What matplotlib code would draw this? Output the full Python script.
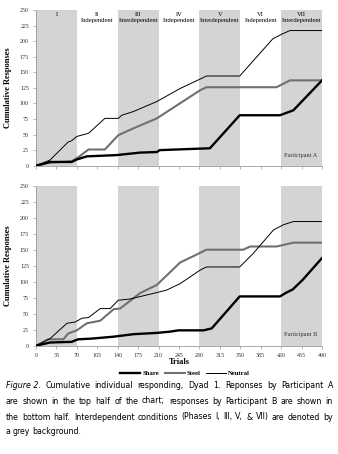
import numpy as np
import matplotlib
matplotlib.use("Agg")
import matplotlib.pyplot as plt
from matplotlib import font_manager
from matplotlib.font_manager import FontProperties

# Data: trial -> cumulative responses (breakpoints)
trials_share_a = [0, 24, 61, 70, 87, 138, 178, 207, 212, 298, 349, 418, 441, 490]
share_a = [0, 6, 6, 10, 15, 17, 21, 22, 25, 28, 81, 81, 89, 137]
trials_steel_a = [0, 24, 61, 73, 90, 118, 141, 167, 207, 281, 292, 412, 435, 490]
steel_a = [0, 5, 7, 14, 26, 26, 49, 60, 76, 121, 126, 126, 137, 137]
trials_neutral_a = [0, 24, 55, 61, 70, 90, 118, 141, 147, 167, 207, 247, 281, 292, 349, 406, 423, 435, 490]
neutral_a = [0, 9, 38, 40, 47, 52, 76, 76, 81, 87, 103, 124, 139, 144, 144, 204, 212, 217, 217]

trials_share_b = [0, 24, 61, 72, 94, 132, 167, 207, 230, 244, 287, 301, 349, 418, 429, 440, 457, 490]
share_b = [0, 5, 6, 10, 11, 14, 18, 20, 22, 24, 24, 27, 77, 77, 83, 88, 103, 137]
trials_steel_b = [0, 21, 47, 55, 70, 87, 110, 133, 144, 178, 207, 247, 281, 292, 355, 367, 412, 441, 490]
steel_b = [0, 10, 10, 19, 24, 35, 39, 57, 58, 82, 95, 130, 145, 150, 150, 155, 155, 161, 161]
trials_neutral_b = [0, 24, 53, 67, 79, 90, 110, 127, 141, 161, 207, 224, 247, 281, 292, 349, 372, 407, 424, 441, 490]
neutral_b = [0, 11, 35, 37, 43, 44, 58, 58, 71, 73, 83, 87, 97, 118, 123, 123, 144, 181, 189, 194, 194]

phase_edges = [0, 70, 140, 210, 280, 350, 420, 490]
phase_names = ["I", "II", "III", "IV", "V", "VI", "VII"]
phase_kinds = ["", "Independent", "Interdependent", "Independent",
               "Interdependent", "Independent", "Interdependent"]
shaded = [0, 2, 4, 6]

xticks = np.arange(0, 491, 35)
yticks = np.arange(0, 251, 25)

caption = ["Cumulative individual responding, Dyad 1. Reponses by Participant A",
           "are shown in the top half of the chart; responses by Participant B are shown in",
           "the bottom half. Interdependent conditions (Phases I, III, V, & VII) are denoted by",
           "a grey background."]

serif = "Liberation Serif"

# pick a narrow sans for the caption if one is around
capfont, capstretch = "Liberation Sans", "normal"
for fam, st in [("Liberation Sans Narrow", "normal"), ("DejaVu Sans", "condensed"),
                ("Roboto", "condensed"), ("Open Sans", "condensed"),
                ("Noto Sans", "condensed")]:
    try:
        p = font_manager.findfont(FontProperties(family=fam, stretch=st),
                                  fallback_to_default=False)
    except Exception:
        continue
    if "Narrow" in p or "Condensed" in p:
        capfont, capstretch = fam, st
        break

W, H = 338, 454
fig = plt.figure(figsize=(W/100, H/100), dpi=100)

def px_axes(x0, y0, x1, y1):
    return fig.add_axes([x0/W, 1 - y1/H, (x1-x0)/W, (y1-y0)/H])

ax_a = px_axes(36, 10, 322, 165.7)
ax_b = px_axes(36, 185.7, 322, 345.7)

def style(ax, label, show_x):
    for i in shaded:
        ax.axvspan(phase_edges[i], phase_edges[i+1], color="#d4d4d4", lw=0, zorder=0)
    ax.set_xlim(0, 490)
    ax.set_ylim(0, 250)
    ax.set_xticks(xticks)
    ax.set_yticks(yticks)
    ax.spines["top"].set_visible(False)
    ax.spines["right"].set_visible(False)
    for s in ("left", "bottom"):
        ax.spines[s].set_color("#9a9a9a")
        ax.spines[s].set_linewidth(0.6)
    ax.tick_params(length=2, width=0.5, color="#9a9a9a", pad=3, labelsize=4.3,
                   labelcolor="#333333")
    for t in ax.get_yticklabels() + ax.get_xticklabels():
        t.set_family(serif)
    if not show_x:
        ax.set_xticklabels([])
    ax.set_ylabel("Cumulative Responses", family=serif, fontsize=6, fontweight="bold",
                  labelpad=6)
    ax.text(453, 17, label, family=serif, fontsize=4.5, ha="center", va="center",
            color="#333333")

ax_a.plot(trials_share_a, share_a, color="black", lw=1.7, label="Share", zorder=3)
ax_a.plot(trials_steel_a, steel_a, color="#707070", lw=1.5, label="Steel", zorder=2)
ax_a.plot(trials_neutral_a, neutral_a, color="black", lw=0.7, label="Neutral", zorder=4)
style(ax_a, "Participant A", False)

ax_b.plot(trials_share_b, share_b, color="black", lw=1.7, label="Share", zorder=3)
ax_b.plot(trials_steel_b, steel_b, color="#707070", lw=1.5, label="Steel", zorder=2)
ax_b.plot(trials_neutral_b, neutral_b, color="black", lw=0.7, label="Neutral", zorder=4)
style(ax_b, "Participant B", True)
ax_b.set_xlabel("Trials", family=serif, fontsize=6, fontweight="bold", labelpad=0.5)

for i, name in enumerate(phase_names):
    xc = (phase_edges[i] + phase_edges[i+1]) / 2
    ax_a.text(xc, 243, name, family=serif, fontsize=4.8, ha="center", va="center")
    if phase_kinds[i]:
        ax_a.text(xc, 233, phase_kinds[i], family=serif, fontsize=4.8, ha="center",
                  va="center")

handles, labels = ax_a.get_legend_handles_labels()
fig.legend(handles, labels, loc="center", bbox_to_anchor=(185/W, 1 - 373/H), ncol=3,
           frameon=False, prop={"family": serif, "size": 4.8, "weight": "bold"},
           handlelength=3, handletextpad=0.3, columnspacing=0.8)

# caption, justified word by word
renderer = fig.canvas.get_renderer()
left, right = 6, 333
line_y = [385, 401, 417, 432]

def width_px(txt):
    return txt.get_window_extent(renderer).width

# size the caption so the longest line fits
fs = 8.0
probe = fig.text(0, 0, caption[2], family=capfont, stretch=capstretch, fontsize=fs)
nat = width_px(probe)
probe.remove()
if nat > (right - left) * 0.98:
    fs = fs * (right - left) * 0.98 / nat

for k, line in enumerate(caption):
    words = line.split(" ")
    y = 1 - line_y[k]/H
    items = []
    if k == 0:
        items.append(fig.text(0, y, "Figure 2.", family=capfont, stretch=capstretch,
                              fontsize=fs, style="italic", va="center"))
    for w in words:
        items.append(fig.text(0, y, w, family=capfont, stretch=capstretch,
                              fontsize=fs, va="center"))
    widths = [width_px(t) for t in items]
    if k < len(caption) - 1:
        gap = (right - left - sum(widths)) / (len(items) - 1)
    else:
        gap = fs * 0.3
    x = left
    for t, w in zip(items, widths):
        t.set_x(x / W)
        x += w + gap

fig.savefig("out.png", dpi=100)
